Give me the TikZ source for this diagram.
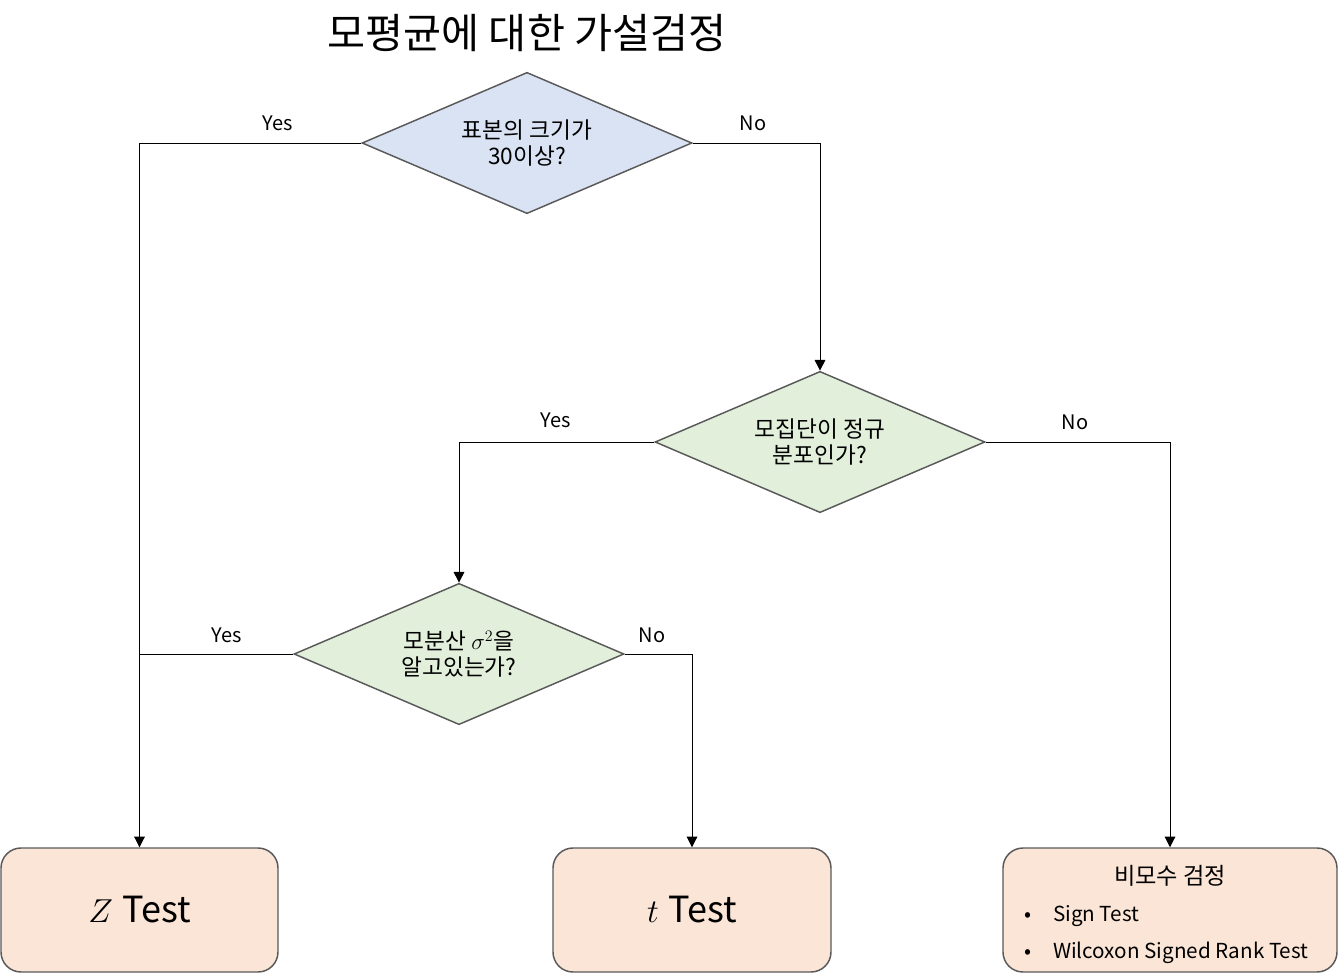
\documentclass[tikz,border=0pt]{standalone}
\usepackage{fontspec}
\setmainfont{Noto Sans CJK KR}
\usetikzlibrary{shapes.geometric,arrows.meta}
\definecolor{dblue}{HTML}{DAE3F3}
\definecolor{dgreen}{HTML}{E2EFDA}
\definecolor{bpeach}{HTML}{FBE5D6}
\definecolor{bord}{HTML}{595959}
\tikzset{
  dec/.style={diamond,aspect=2.33,draw=bord,line width=1.1pt,inner sep=0pt,
    minimum width=247.5pt,minimum height=106pt,align=center,
    font=\fontsize{17}{19.5}\selectfont},
  resbox/.style={rectangle,rounded corners=15pt,draw=bord,line width=1.1pt,
    fill=bpeach,minimum height=93pt,inner sep=0pt},
  conn/.style={draw=black,line width=0.75pt},
  arr/.style={conn,-{Triangle[length=8pt,width=8pt]}},
  lbl/.style={font=\fontsize{15}{17}\selectfont,inner sep=0pt}
}
\begin{document}
\begin{tikzpicture}[x=0.75pt,y=-0.75pt]
\useasboundingbox (0,0) rectangle (1339,978);
\node[font=\fontsize{31}{35}\selectfont] (title) at (527,33) {모평균에 대한 가설검정};
\node[dec,fill=dblue] (d1) at (527,143) {표본의 크기가\\30이상?};
\node[dec,fill=dgreen] (d2) at (820,442) {모집단이 정규\\분포인가?};
\node[dec,fill=dgreen] (d3) at (459,654) {모분산 $\sigma^2$을\\알고있는가?};
\node[resbox,minimum width=207.75pt,font=\fontsize{27}{30}\selectfont] (zb) at (139.5,910) {$Z$\hspace{7pt}Test};
\node[resbox,minimum width=208.5pt,font=\fontsize{27}{30}\selectfont] (tb) at (692,910) {$t$\hspace{7pt}Test};
\node[resbox,minimum width=250.5pt] (nb) at (1170,910) {};
\node[font=\fontsize{17.4}{20}\selectfont] (nbt) at (1170,876) {비모수 검정};
\node[font=\fontsize{15.5}{18}\selectfont,anchor=west] (nb1) at (1020,916) {•\hspace{16pt}Sign Test};
\node[font=\fontsize{15.5}{18}\selectfont,anchor=west] (nb2) at (1020,953) {•\hspace{16pt}Wilcoxon Signed Rank Test};
\draw[arr] (d1.west) -| (zb.north);
\draw[arr] (d1.east) -| (d2.north);
\draw[arr] (d2.west) -| (d3.north);
\draw[arr] (d2.east) -| (nb.north);
\draw[conn] (d3.west) -- (d3.west -| zb.north);
\draw[arr] (d3.east) -| (tb.north);
\node[lbl] (l1) at (278,123) {Yes};
\node[lbl] (l2) at (753,123) {No};
\node[lbl] (l3) at (556,420) {Yes};
\node[lbl] (l4) at (1075,422) {No};
\node[lbl] (l5) at (227,635) {Yes};
\node[lbl] (l6) at (652,635) {No};
\end{tikzpicture}
\end{document}
